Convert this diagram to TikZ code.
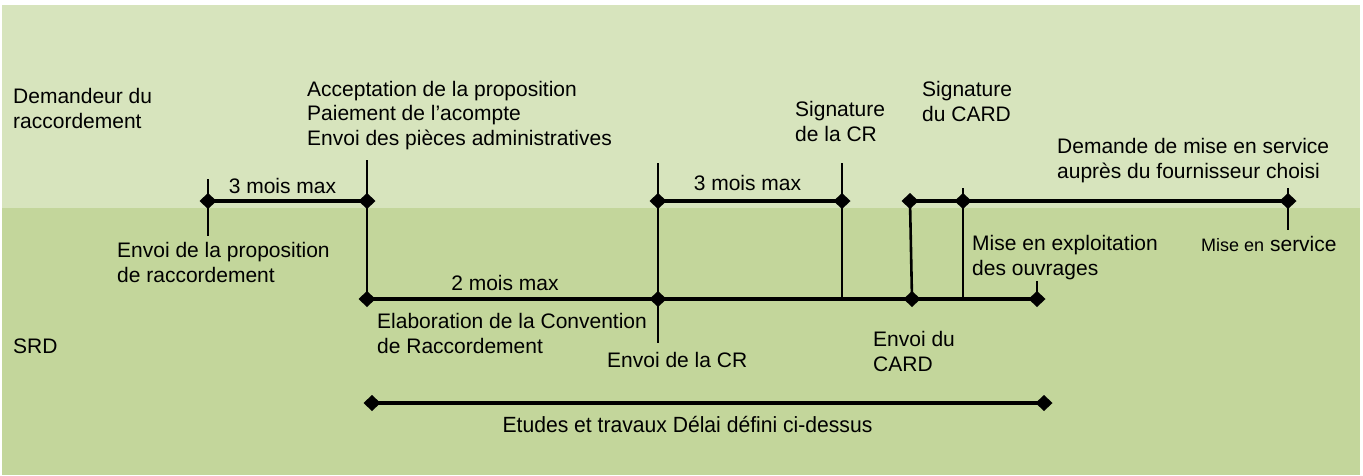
\documentclass[tikz,border=0pt]{standalone}
\usepackage{fontspec}
\setmainfont{Liberation Sans}
\definecolor{topband}{HTML}{D7E4BD}
\definecolor{botband}{HTML}{C3D69B}
\begin{document}
\begin{tikzpicture}[x=1pt,y=-1pt,
  hline/.style={line width=3.3pt},
  vline/.style={line width=2.2pt},
  lbl/.style={anchor=base west,align=left,inner sep=0pt,font=\fontsize{21}{24.5}\selectfont},
  dur/.style={anchor=base,inner sep=0pt,font=\fontsize{21}{24.5}\selectfont}]
\useasboundingbox (0,0) rectangle (1363,475);
\fill[white] (0,0) rectangle (1363,475);
\fill[topband] (2,5) rectangle (1360,208);
\fill[botband] (2,208) rectangle (1360,475);

% diamond points
\coordinate (d1) at (208,201);
\coordinate (d2) at (367,201);
\coordinate (d3) at (367,299);
\coordinate (d4) at (658,299);
\coordinate (d5) at (912,299);
\coordinate (d6) at (1037,299);
\coordinate (d7) at (658,201);
\coordinate (d8) at (842,201);
\coordinate (d9) at (910,201);
\coordinate (d10) at (963,201);
\coordinate (d11) at (1288,201);
\coordinate (e1) at (372,403);
\coordinate (e2) at (1044,403);

% free ends
\coordinate (t1a) at (208,179);
\coordinate (t1b) at (208,236);
\coordinate (t2a) at (367,160);
\coordinate (t4a) at (658,163);
\coordinate (t4b) at (658,343);
\coordinate (t8a) at (842,163);
\coordinate (t8b) at (842,299);
\coordinate (t10a) at (963,188);
\coordinate (t10b) at (963,299);
\coordinate (t11a) at (1288,188);
\coordinate (t11b) at (1288,230);
\coordinate (t6a) at (1037,281);

% horizontal lines
\draw[hline] (d1) -- (d2);
\draw[hline] (d3) -- (d6);
\draw[hline] (d7) -- (d8);
\draw[hline] (d9) -- (d11);
\draw[hline] (e1) -- (e2);

% vertical lines
\draw[vline] (t1a) -- (t1b);
\draw[vline] (t2a) -- (d3);
\draw[vline] (t4a) -- (t4b);
\draw[vline] (t8a) -- (t8b);
\draw[vline,line width=2.6pt] (d9) -- (d5);
\draw[vline] (t10a) -- (t10b);
\draw[vline] (t11a) -- (t11b);
\draw[vline] (t6a) -- (d6);

% diamonds
\foreach \n in {d1,d2,d3,d4,d5,d6,d7,d8,d9,d10,d11,e1,e2}
  \fill[shift={(\n)}] (0,-8) -- (8.5,0) -- (0,8) -- (-8.5,0) -- cycle;

% labels (base = baseline of last line)
\node[lbl] (dem) at (13,128) {Demandeur du\\raccordement};
\node[lbl] (srd) at (13,353) {SRD};
\node[lbl] (acc) at (307,145) {Acceptation de la proposition\\Paiement de l’acompte\\Envoi des pièces administratives};
\node[lbl] (envp) at (117,282) {Envoi de la proposition\\de raccordement};
\node[dur] (m1) at (282.5,193) {3 mois max};
\node[dur] (m2) at (505,290) {2 mois max};
\node[dur] (m3) at (747.5,190) {3 mois max};
\node[lbl] (elab) at (377,353) {Elaboration de la Convention\\de Raccordement};
\node[lbl] (envcr) at (607,367) {Envoi de la CR};
\node[lbl] (sigcr) at (795,141) {Signature\\de la CR};
\node[lbl] (sigcard) at (922,121) {Signature\\du CARD};
\node[lbl] (dms) at (1057,178) {Demande de mise en service\\auprès du fournisseur choisi};
\node[lbl] (mexp) at (972,275) {Mise en exploitation\\des ouvrages};
\node[lbl] (mserv) at (1201,251) {{\fontsize{18}{20}\selectfont Mise en} service};
\node[lbl] (envcard) at (873,371) {Envoi du\\CARD};
\node[anchor=base,inner sep=0pt,font=\fontsize{22}{24}\selectfont,xscale=0.96] (etu) at (687.5,432) {Etudes et travaux Délai défini ci-dessus};
\end{tikzpicture}
\end{document}
